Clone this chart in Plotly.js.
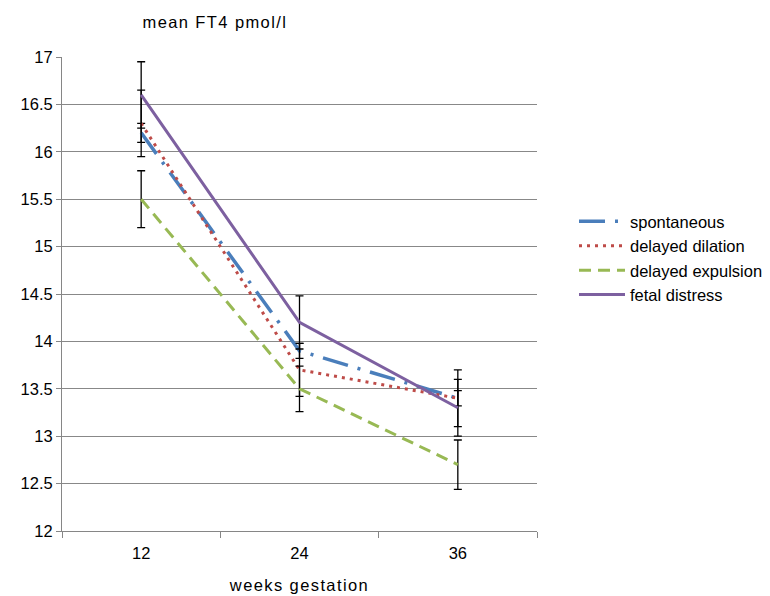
<!DOCTYPE html>
<html>
<head>
<meta charset="utf-8">
<script src="https://cdn.plot.ly/plotly-3.0.1.min.js"></script>
<style>
html,body{margin:0;padding:0;background:#fff;}
#chart{width:770px;height:596px;}
#chart .xtitle, #chart .annotation-text{letter-spacing:1.4px;}
</style>
</head>
<body>
<div id="chart"></div>
<script>
var weeks = ["12", "24", "36"];
var spontaneous = [16.2, 13.9, 13.4];
var spontaneousErr = [0.1, 0.08, 0.08];
var delayedDilation = [16.3, 13.7, 13.4];
var delayedDilationErr = [0.35, 0.28, 0.3];
var delayedExpulsion = [15.5, 13.5, 12.7];
var delayedExpulsionErr = [0.3, 0.24, 0.26];
var fetalDistress = [16.6, 14.2, 13.3];
var fetalDistressErr = [0.35, 0.28, 0.3];
var yTicks = [12, 12.5, 13, 13.5, 14, 14.5, 15, 15.5, 16, 16.5, 17];

function mk(name, y, err, color, dash, width) {
  return {
    type: 'scatter', mode: 'lines', name: name, x: weeks, y: y,
    line: {color: color, dash: dash, width: width},
    error_y: {type: 'data', array: err, visible: true, color: '#000', thickness: 1.3, width: 4}
  };
}
var data = [
  mk('spontaneous', spontaneous, spontaneousErr, '#4A7EBB', '26px,10px,3px,10px', 3.5),
  mk('delayed dilation', delayedDilation, delayedDilationErr, '#BE4B48', '3px,5px', 3),
  mk('delayed expulsion', delayedExpulsion, delayedExpulsionErr, '#98B954', '12px,7px', 3),
  mk('fetal distress', fetalDistress, fetalDistressErr, '#7D60A0', 'solid', 3)
];
var layout = {
  width: 770, height: 596,
  margin: {l: 62, r: 233, t: 57, b: 65},
  paper_bgcolor: '#fff', plot_bgcolor: '#fff',
  font: {family: 'Liberation Sans, Arial, sans-serif', size: 16.5, color: '#000'},
  showlegend: true,
  legend: {xref: 'container', yref: 'container', x: 574 / 770, xanchor: 'left', y: 1 - 204 / 596, yanchor: 'top',
           font: {size: 16.5}, itemwidth: 46, bgcolor: 'rgba(0,0,0,0)'},
  xaxis: {
    type: 'category', range: [-0.5, 2.5], tickson: 'boundaries', ticks: 'outside', ticklen: 6,
    tickcolor: '#868686', showline: true, linecolor: '#868686', linewidth: 1, showgrid: false,
    zeroline: false, tickfont: {size: 16.5}, ticklabelstandoff: 7,
    title: {text: 'weeks gestation', font: {size: 16.5}, standoff: 18}
  },
  yaxis: {
    range: [12, 17], tickvals: yTicks, ticktext: yTicks.map(String), ticks: 'outside', ticklen: 5,
    tickcolor: '#868686', showline: true, linecolor: '#868686', linewidth: 1,
    showgrid: true, gridcolor: '#888', gridwidth: 1, zeroline: false, tickfont: {size: 16.5}
  },
  annotations: [{
    text: 'mean FT4 pmol/l', xref: 'paper', yref: 'paper', x: (151 - 62) / 475, y: 1, yshift: 35,
    xanchor: 'left', yanchor: 'middle', showarrow: false, font: {size: 16.5}
  }]
};
Plotly.newPlot('chart', data, layout, {displayModeBar: false});
</script>
</body>
</html>
